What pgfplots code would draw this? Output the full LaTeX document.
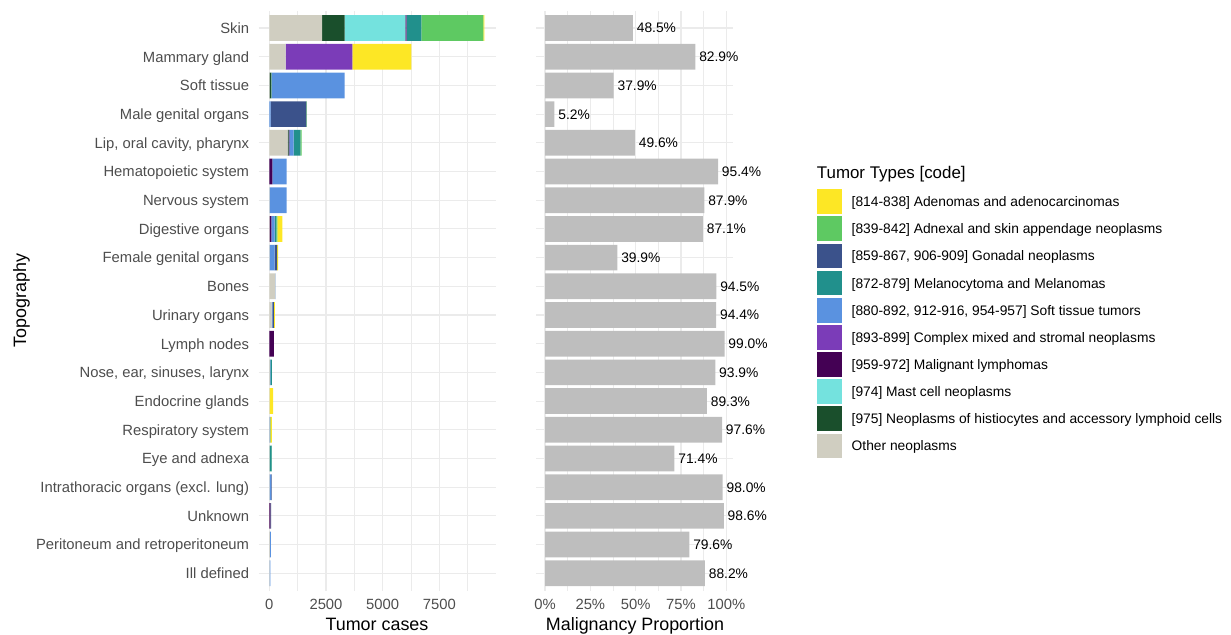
\documentclass[border=0pt]{standalone}
\usepackage{fontspec}
\setmainfont{Liberation Sans}
\usepackage{pgfplots}
\usepackage{pgfplotstable}
\pgfplotsset{compat=1.18}

\definecolor{adenc}{HTML}{FDE725}
\definecolor{adnexc}{HTML}{5EC962}
\definecolor{gonc}{HTML}{3B528B}
\definecolor{melc}{HTML}{21908C}
\definecolor{softc}{HTML}{5A92E0}
\definecolor{complc}{HTML}{7B3CB8}
\definecolor{lymphc}{HTML}{440154}
\definecolor{mastc}{HTML}{74E2DE}
\definecolor{histc}{HTML}{1A4F2C}
\definecolor{otherc}{HTML}{D0CEC1}
\definecolor{barg}{HTML}{BEBEBE}
\definecolor{gridc}{HTML}{EBEBEB}
\definecolor{tickc}{HTML}{4D4D4D}

% counts per topography (row 0 = Skin ... row 19 = Ill defined)
\pgfplotstableread{
y Other Hist Mast Lymph Complex Soft Mel Gon Adnex Aden
0 2324 1000 2676 40 20 0 647 0 2734 40
1 723 0 0 0 2940 0 0 0 0 2602
2 20 70 10 0 0 3225 0 0 0 0
3 0 0 0 0 0 60 0 1570 30 0
4 808 40 0 35 0 190 294 0 59 0
5 0 0 0 132 0 632 0 0 0 0
6 10 0 0 0 0 755 0 0 0 0
7 20 0 0 75 0 145 75 0 45 220
8 20 0 0 0 0 220 0 100 0 45
9 270 0 0 0 0 10 0 0 0 0
10 100 0 0 0 0 40 0 60 0 50
11 0 0 0 200 0 0 0 0 0 0
12 30 0 0 0 0 20 60 0 0 0
13 20 0 0 0 0 0 0 0 0 150
14 15 0 0 0 0 15 20 0 0 60
15 10 0 0 0 0 0 90 0 10 0
16 10 0 0 0 0 70 0 20 0 0
17 0 0 0 50 0 0 0 30 0 0
18 30 0 0 0 0 40 0 0 0 0
19 10 0 0 0 0 40 0 0 0 0
}\cases

\pgfplotstableread{
y p
0 48.5
1 82.9
2 37.9
3 5.2
4 49.6
5 95.4
6 87.9
7 87.1
8 39.9
9 94.5
10 94.4
11 99.0
12 93.9
13 89.3
14 97.6
15 71.4
16 98.0
17 98.6
18 79.6
19 88.2
}\malig

\pgfplotsset{
  mybar/.style={fill=#1, draw=none,
    legend image code/.code={\fill[##1] (0bp,-12.35bp) rectangle (24.7bp,12.35bp);}},
  common/.style={
    scale only axis, anchor=south west, height=579.7bp,
    ymin=-0.6, ymax=19.6, y dir=reverse, ytick={0,...,19},
    bar width=25.7bp,
    xmajorgrids, xminorgrids, ymajorgrids,
    major grid style={gridc, line width=1.1bp},
    minor grid style={gridc, line width=0.55bp},
    axis line style={draw=none},
    major tick length=0pt, minor tick length=0pt,
    /pgf/number format/assume math mode=true,
    tick label style={font=\fontsize{14.8bp}{17bp}\selectfont, text=tickc, inner sep=0pt},
    yticklabel style={anchor=east, text height=10.6bp, text depth=0pt, xshift=-9.2bp},
    xticklabel style={anchor=base, yshift=-19.3bp},
  },
}

\begin{document}
\begin{tikzpicture}
\useasboundingbox (0,0) rectangle (1231bp,635bp);

\begin{axis}[common,
  at={(258.5bp,44.5bp)}, width=237bp,
  xbar stacked,
  xmin=-476, xmax=9974,
  xtick={0,2500,5000,7500}, xticklabels={0,2500,5000,7500},
  minor xtick={1250,3750,6250,8750},
  yticklabels={Skin,Mammary gland,Soft tissue,Male genital organs,{Lip, oral cavity, pharynx},Hematopoietic system,Nervous system,Digestive organs,Female genital organs,Bones,Urinary organs,Lymph nodes,{Nose, ear, sinuses, larynx},Endocrine glands,Respiratory system,Eye and adnexa,Intrathoracic organs (excl. lung),Unknown,Peritoneum and retroperitoneum,Ill defined},
  reverse legend,
  legend cell align=left,
  legend style={at={(2.3578,0.6921)}, anchor=north west, draw=none, fill=none,
    inner sep=0pt, outer sep=0pt, row sep=2.45bp,
    font=\fontsize{13.8bp}{16bp}\selectfont,
    nodes={inner sep=0pt, text height=9.88bp, text depth=0pt},
    /tikz/every odd column/.append style={column sep=9.7bp}},
]
\addplot[mybar=otherc] table[x=Other,y=y]{\cases};
\addlegendentry{Other neoplasms}
\addplot[mybar=histc] table[x=Hist,y=y]{\cases};
\addlegendentry{{[975] Neoplasms of histiocytes and accessory lymphoid cells}}
\addplot[mybar=mastc] table[x=Mast,y=y]{\cases};
\addlegendentry{{[974] Mast cell neoplasms}}
\addplot[mybar=lymphc] table[x=Lymph,y=y]{\cases};
\addlegendentry{{[959-972] Malignant lymphomas}}
\addplot[mybar=complc] table[x=Complex,y=y]{\cases};
\addlegendentry{{[893-899] Complex mixed and stromal neoplasms}}
\addplot[mybar=softc] table[x=Soft,y=y]{\cases};
\addlegendentry{{[880-892, 912-916, 954-957] Soft tissue tumors}}
\addplot[mybar=melc] table[x=Mel,y=y]{\cases};
\addlegendentry{{[872-879] Melanocytoma and Melanomas}}
\addplot[mybar=gonc] table[x=Gon,y=y]{\cases};
\addlegendentry{{[859-867, 906-909] Gonadal neoplasms}}
\addplot[mybar=adnexc] table[x=Adnex,y=y]{\cases};
\addlegendentry{{[839-842] Adnexal and skin appendage neoplasms}}
\addplot[mybar=adenc] table[x=Aden,y=y]{\cases};
\addlegendentry{{[814-838] Adenomas and adenocarcinomas}}
\end{axis}

\begin{axis}[common,
  at={(536bp,44.5bp)}, width=197bp,
  xbar, clip=false,
  xmin=-4.96, xmax=103.66,
  xtick={0,25,50,75,100}, xticklabels={0\%,25\%,50\%,75\%,100\%},
  minor xtick={12.5,37.5,62.5,87.5},
  yticklabels={},
  point meta=x,
  nodes near coords={\pgfmathprintnumber[fixed,fixed zerofill,precision=1]{\pgfplotspointmeta}\%},
  nodes near coords style={anchor=west, inner sep=0pt, xshift=3.7bp,
    font=\fontsize{13.8bp}{16bp}\selectfont, text=black, text height=9.88bp, text depth=0pt},
]
\addplot[fill=barg, draw=none] table[x=p,y=y]{\malig};
\end{axis}

\node[font=\fontsize{17.9bp}{20bp}\selectfont, anchor=base] at (377bp,4.5bp) {Tumor cases};
\node[font=\fontsize{17.9bp}{20bp}\selectfont, anchor=base] at (635bp,4.5bp) {Malignancy Proportion};
\node[font=\fontsize{17.9bp}{20bp}\selectfont, anchor=base, rotate=90] at (26bp,334.4bp) {Topography};
\node[font=\fontsize{16.9bp}{19bp}\selectfont, anchor=base west, inner sep=0pt] at (816.7bp,456.2bp) {Tumor Types [code]};
\end{tikzpicture}
\end{document}
